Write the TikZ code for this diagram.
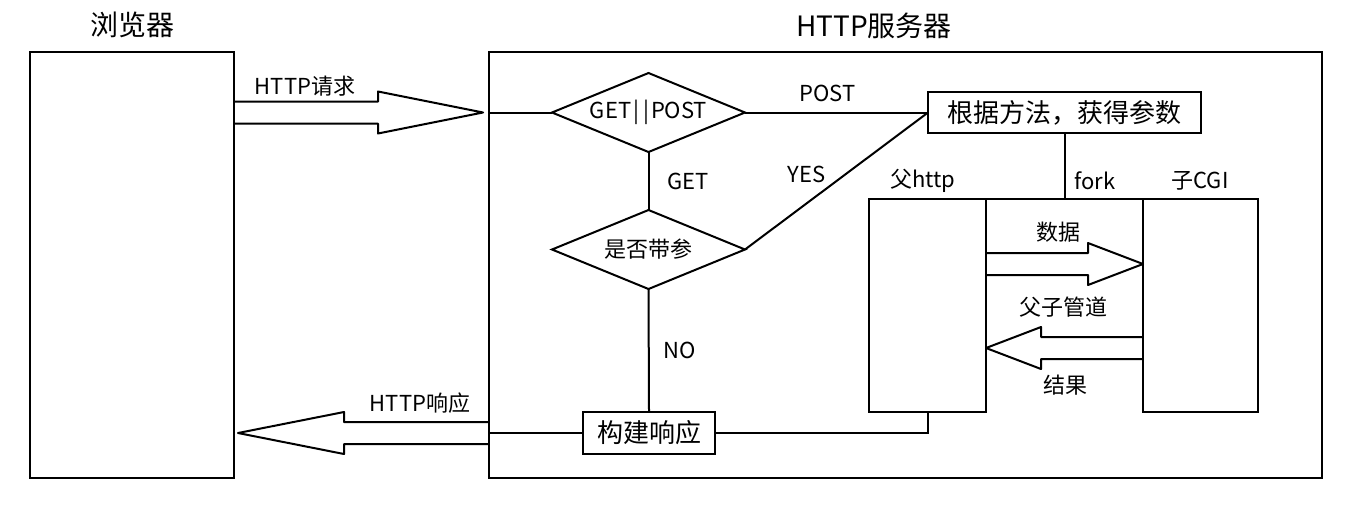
\documentclass[tikz,border=0pt]{standalone}
\usepackage{fontspec}
\setmainfont{Noto Sans CJK SC}
\usetikzlibrary{shapes.geometric, calc, positioning}

\tikzset{
  bigbox/.style={draw, line width=1.3pt, inner sep=0pt, outer sep=0pt},
  box/.style={draw, line width=1pt, inner sep=0pt, outer sep=0pt},
  proc/.style={box, font=\fontsize{13}{15}\selectfont},
  decide/.style={draw, diamond, line width=1pt, inner sep=0pt, outer sep=0pt,
    aspect=2.4, minimum width=96.5pt, minimum height=39.5pt,
    font=\fontsize{11}{13}\selectfont},
  lbl/.style={font=\fontsize{11}{13}\selectfont, inner sep=0pt},
  ttl/.style={font=\fontsize{14}{16}\selectfont, inner sep=0pt},
}

% hollow arrow: head length, from, to
\newcommand\fatarrow[3]{%
  \coordinate (fah) at ($(#3)!#1!(#2)$);
  \draw[line width=1pt, line join=round]
    ($(#2)!5.5pt!90:(#3)$) -- ($(fah)!5.5pt!-90:(#2)$) -- ($(fah)!10.5pt!-90:(#2)$)
    -- (#3) -- ($(fah)!10.5pt!90:(#2)$) -- ($(fah)!5.5pt!90:(#2)$)
    -- ($(#2)!5.5pt!-90:(#3)$);}

\begin{document}
\begin{tikzpicture}[x=0.5pt, y=-0.5pt, line width=1pt]
  \useasboundingbox (0,0) rectangle (1352,510);
  % browser and server
  \node[bigbox, minimum width=102pt, minimum height=213pt] (browser) at (132,265) {};
  \node[bigbox, minimum width=416.5pt, minimum height=213pt] (server) at (905.5,265) {};
  \node[ttl] (browsertitle) at (132,25) {浏览器};
  \node[ttl] (servertitle) at (874,26) {HTTP服务器};

  % flow inside the server
  \node[decide] (method) at (648.5,112.5) {GET\kern1pt|\kern2pt|\kern1pt POST};
  \node[decide] (hasarg) at (648.5,249.5) {是否带参};
  \node[proc, minimum width=66pt, minimum height=21pt] (build) at (649,433) {构建响应};
  \node[proc, minimum width=136.5pt, minimum height=20.5pt] (getarg) at (1064.5,112.5) {根据方法，获得参数};
  \node[box, minimum width=58.5pt, minimum height=106.5pt] (parent) at (927.5,305.5) {};
  \node[box, minimum width=57.5pt, minimum height=106.5pt] (child) at (1200.5,305.5) {};

  % request
  \coordinate (reqfrom) at (browser.east |- method.west);
  \coordinate (reqtip) at ($(server.west |- method.west)+(-6,0)$);
  \fatarrow{52.5pt}{reqfrom}{reqtip}
  \node[lbl] (reqlabel) at (305,86) {HTTP请求};
  \draw (server.west |- method.west) -- (method.west);

  \draw (method.south) -- node[lbl, right=9pt] {GET} (hasarg.north);
  \draw (method.east) -- node[lbl, above=5pt, pos=0.45] {POST} (getarg.west);
  \draw (hasarg.east) -- node[lbl, above left=2pt, pos=0.46] {YES} (getarg.west);
  \draw (hasarg.south) -- node[lbl, right=7pt] {NO} (build.north);

  % response
  \coordinate (resfrom) at (server.west |- build.west);
  \coordinate (restip) at ($(browser.east |- build.west)+(4,0)$);
  \draw (build.west) -- (resfrom);
  \fatarrow{53pt}{resfrom}{restip}
  \node[lbl] (reslabel) at (420,403) {HTTP响应};
  \draw (build.east) -| (parent.south);

  % fork and pipe
  \draw (parent.north east) -- (child.north west);
  \draw (getarg.south) -- (getarg.south |- parent.north);
  \node[lbl] (parentlabel) at (923,181) {父http};
  \node[lbl] (forklabel) at (1095,181) {fork};
  \node[lbl] (childlabel) at (1200,181) {子CGI};

  \coordinate (datafrom) at ($(parent.east)+(0,-41.5)$);
  \coordinate (datatip) at (child.west |- datafrom);
  \fatarrow{27.5pt}{datafrom}{datatip}
  \coordinate (resultfrom) at ($(child.west)+(0,42.5)$);
  \coordinate (resulttip) at (parent.east |- resultfrom);
  \fatarrow{27.5pt}{resultfrom}{resulttip}
  \node[lbl] (datalabel) at (1058,232) {数据};
  \node[lbl] (pipelabel) at (1063,307) {父子管道};
  \node[lbl] (resultlabel) at (1065,385) {结果};
\end{tikzpicture}
\end{document}
